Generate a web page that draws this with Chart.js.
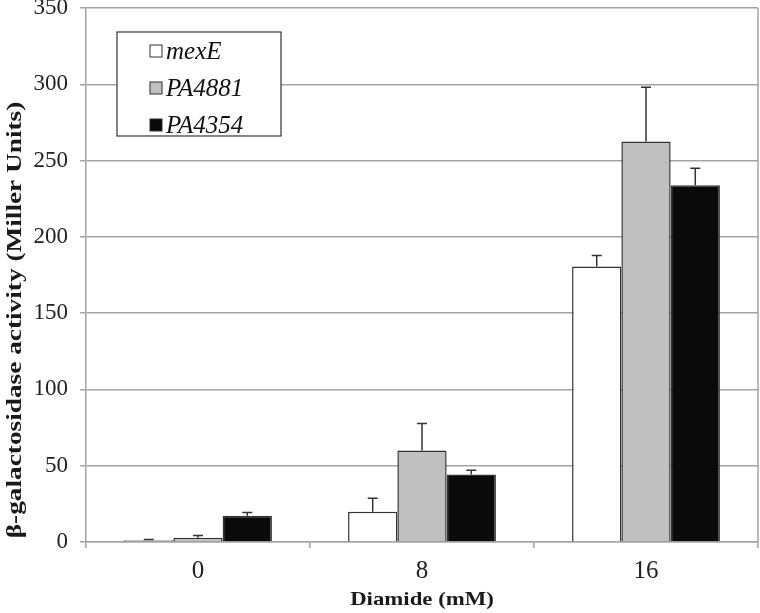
<!DOCTYPE html>
<html>
<head>
<meta charset="utf-8">
<script src="https://cdn.jsdelivr.net/npm/chart.js@4/dist/chart.umd.min.js"></script>
<style>
  html, body { margin: 0; padding: 0; background: #fff; }
  #wrap { width: 760px; height: 613px; }
</style>
</head>
<body>
<div id="wrap"><canvas id="chart" width="760" height="613"></canvas></div>
<script>
// Diamide concentrations (mM)
const categories = ['0', '8', '16'];

// beta-galactosidase activity (Miller units)
const mexE = [1.1, 19.8, 180.6];
const mexEErr = [0.5, 8.8, 7.2];
const pa4881 = [2.8, 60.0, 262.5];
const pa4881Err = [1.4, 17.7, 35.5];
const pa4354 = [17.2, 44.3, 233.8];
const pa4354Err = [2.2, 2.8, 11.2];

const yMin = 0;
const yMax = 350;
const yStep = 50;

const xTitle = 'Diamide (mM)';
const yTitle = 'β-galactosidase activity (Miller Units)';

const serif = '"Liberation Serif", "Times New Roman", serif';
const gridGray = '#a3a3a3';

// upper error bars with a small cap
const errorBars = {
  id: 'errorBars',
  afterDatasetsDraw(chart) {
    const ctx = chart.ctx;
    const yScale = chart.scales.y;
    ctx.save();
    ctx.strokeStyle = '#333';
    ctx.lineWidth = 1.5;
    chart.data.datasets.forEach((ds, i) => {
      const meta = chart.getDatasetMeta(i);
      meta.data.forEach((bar, j) => {
        const top = yScale.getPixelForValue(ds.data[j] + ds.errors[j]);
        const y0 = yScale.getPixelForValue(ds.data[j]);
        ctx.beginPath();
        ctx.moveTo(bar.x, y0);
        ctx.lineTo(bar.x, top);
        ctx.moveTo(bar.x - 5, top);
        ctx.lineTo(bar.x + 5, top);
        ctx.stroke();
      });
    });
    ctx.restore();
  }
};

// right frame line of the plot area
const frame = {
  id: 'frame',
  beforeDatasetsDraw(chart) {
    const { ctx, chartArea } = chart;
    ctx.save();
    ctx.strokeStyle = gridGray;
    ctx.lineWidth = 1.5;
    ctx.beginPath();
    ctx.moveTo(chartArea.right, chartArea.top);
    ctx.lineTo(chartArea.right, chartArea.bottom);
    ctx.stroke();
    ctx.restore();
  }
};

// axis titles, a little stretched along the text like the original
const axisTitles = {
  id: 'axisTitles',
  afterDraw(chart) {
    const { ctx, chartArea } = chart;
    ctx.save();
    ctx.fillStyle = '#1a1a1a';
    ctx.textAlign = 'center';
    ctx.textBaseline = 'middle';
    ctx.font = 'bold 19px ' + serif;
    ctx.save();
    ctx.translate((chartArea.left + chartArea.right) / 2, 600);
    ctx.scale(1.2, 1);
    ctx.fillText(xTitle, 0, 0);
    ctx.restore();
    ctx.font = 'bold 21px ' + serif;
    ctx.translate(16, 320);
    ctx.rotate(-Math.PI / 2);
    ctx.scale(1.3, 1);
    ctx.fillText(yTitle, 0, 0);
    ctx.restore();
  }
};

// boxed legend in the upper left of the plot
const boxLegend = {
  id: 'boxLegend',
  afterDraw(chart) {
    const ctx = chart.ctx;
    const left = 117, top = 32, w = 164, h = 104;
    ctx.save();
    ctx.fillStyle = '#fff';
    ctx.fillRect(left, top, w, h);
    ctx.strokeStyle = '#333';
    ctx.lineWidth = 1.2;
    ctx.strokeRect(left, top, w, h);
    ctx.font = 'italic 25px ' + serif;
    ctx.textBaseline = 'middle';
    chart.data.datasets.forEach((ds, i) => {
      const cy = top + 19 + i * 37;
      ctx.fillStyle = ds.backgroundColor;
      ctx.fillRect(150, cy - 6, 12, 12);
      ctx.strokeStyle = '#333';
      ctx.lineWidth = 1;
      ctx.strokeRect(150, cy - 6, 12, 12);
      ctx.fillStyle = '#111';
      ctx.fillText(ds.label, 166, cy + 1);
    });
    ctx.restore();
  }
};

new Chart(document.getElementById('chart'), {
  type: 'bar',
  data: {
    labels: categories,
    datasets: [
      { label: 'mexE', data: mexE, errors: mexEErr, backgroundColor: '#ffffff' },
      { label: 'PA4881', data: pa4881, errors: pa4881Err, backgroundColor: '#c0c0c0' },
      { label: 'PA4354', data: pa4354, errors: pa4354Err, backgroundColor: '#0a0a0a' }
    ]
  },
  options: {
    responsive: false,
    animation: false,
    layout: { padding: { top: 0, right: 2, left: 0, bottom: 0 } },
    datasets: {
      bar: {
        categoryPercentage: 0.66,
        barPercentage: 1.0,
        borderColor: '#333',
        borderWidth: 1.5
      }
    },
    plugins: {
      legend: { display: false },
      tooltip: { enabled: false }
    },
    scales: {
      x: {
        afterFit(scale) { scale.height = 71; },
        grid: { display: true, drawOnChartArea: false, tickLength: 6, color: gridGray, lineWidth: 1.5, offset: true },
        border: { color: gridGray, width: 1.5 },
        ticks: { font: { family: serif, size: 25 }, color: '#222', padding: 8 }
      },
      y: {
        min: yMin,
        max: yMax,
        afterFit(scale) {
          scale.width = 86;
          scale.paddingTop = 8;
          scale.paddingBottom = 0;
        },
        grid: { color: gridGray, lineWidth: 1.5, tickLength: 6 },
        border: { color: gridGray, width: 1.5 },
        ticks: { stepSize: yStep, font: { family: serif, size: 23 }, color: '#222', padding: 12 }
      }
    }
  },
  plugins: [frame, errorBars, axisTitles, boxLegend]
});
</script>
</body>
</html>
